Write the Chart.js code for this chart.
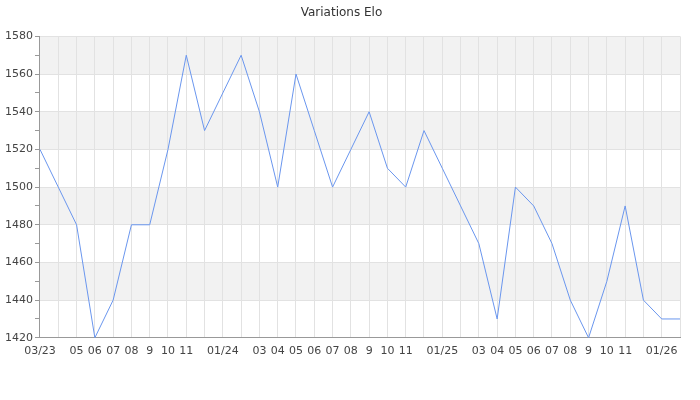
<!DOCTYPE html>
<html>
<head>
<meta charset="utf-8">
<script src="https://cdn.jsdelivr.net/npm/chart.js@4/dist/chart.umd.min.js"></script>
<style>
  body { margin: 0; background: #fff; }
</style>
</head>
<body>
<canvas id="eloChart" width="700" height="400"></canvas>
<script>
// one point per month, 03/23 -> 02/26
const monthLabels = ['03/23', '', '05', '06', '07', '08', '9', '10', '11', '', '01/24', '',
  '03', '04', '05', '06', '07', '08', '9', '10', '11', '', '01/25', '',
  '03', '04', '05', '06', '07', '08', '9', '10', '11', '', '01/26', ''];
const eloValues = [1520, 1500, 1480, 1420, 1440, 1480, 1480, 1520, 1570, 1530, 1550, 1570,
  1540, 1500, 1560, 1530, 1500, 1520, 1540, 1510, 1500, 1530, 1510, 1490,
  1470, 1430, 1500, 1490, 1470, 1440, 1420, 1450, 1490, 1440, 1430, 1430];
const yMin = 1420;
const yMax = 1580;
const bandStarts = [1440, 1480, 1520, 1560]; // grey stripes, 20 high

// stripes go under the grid lines
const stripesPlugin = {
  id: 'stripes',
  beforeDraw: (chart) => {
    const {ctx, chartArea, scales} = chart;
    ctx.save();
    ctx.fillStyle = '#f2f2f2';
    bandStarts.forEach(v => {
      const top = scales.y.getPixelForValue(v + 20);
      const bottom = scales.y.getPixelForValue(v);
      ctx.fillRect(chartArea.left, top, chartArea.right - chartArea.left, bottom - top);
    });
    ctx.restore();
  }
};

Chart.defaults.font.family = 'DejaVu Sans';
Chart.defaults.font.size = 11;
Chart.defaults.color = '#444';

new Chart(document.getElementById('eloChart'), {
  type: 'line',
  data: {
    labels: monthLabels,
    datasets: [{
      data: eloValues,
      borderColor: '#6a96ee',
      borderWidth: 1,
      pointRadius: 0,
      fill: false,
      tension: 0
    }]
  },
  options: {
    responsive: false,
    animation: false,
    layout: { padding: { left: 3, right: 20, top: 0, bottom: 35 } },
    plugins: {
      legend: { display: false },
      tooltip: { enabled: false },
      title: {
        display: true,
        text: 'Variations Elo',
        color: '#333',
        font: { size: 12, weight: 'normal' },
        padding: { top: 6, bottom: 16 }
      }
    },
    scales: {
      x: {
        offset: false,
        grid: { color: '#e2e2e2', drawTicks: false },
        border: { color: '#999' },
        ticks: { autoSkip: false, maxRotation: 0, padding: 7, color: '#444' }
      },
      y: {
        min: yMin,
        max: yMax,
        grid: {
          color: (c) => (c.tick && c.tick.value % 20 === 0) ? '#e2e2e2' : 'transparent',
          tickColor: '#999',
          tickLength: 5
        },
        border: { color: '#999' },
        ticks: {
          stepSize: 10,
          padding: 2,
          color: '#444',
          callback: (v) => v % 20 === 0 ? v : ''
        }
      }
    }
  },
  plugins: [stripesPlugin]
});
</script>
</body>
</html>
